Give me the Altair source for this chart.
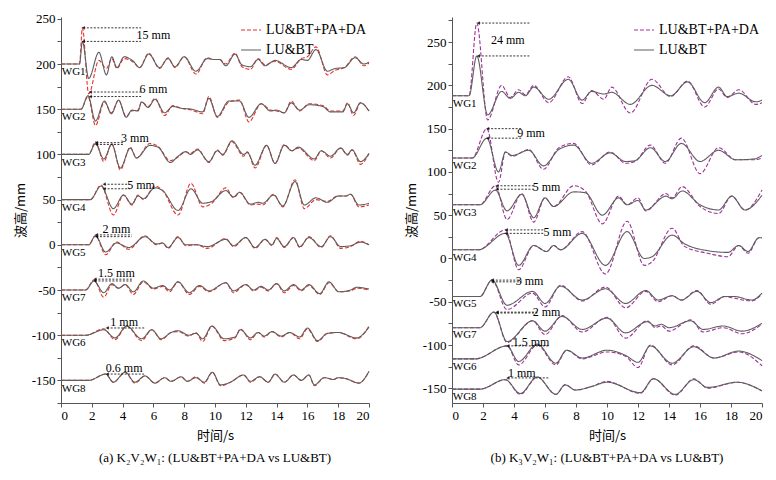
import altair as alt
import pandas as pd

# panel (a) K2V2W1 - gauge order top to bottom, baselines, key times and values
A_GAUGES = ["WG1", "WG2", "WG3", "WG4", "WG5", "WG7", "WG6", "WG8"]
A_BASE = [200, 150, 100, 50, 0, -50, -100, -150]
A_T = {
    "WG1": [0, 1.2, 1.39, 1.8, 2.46, 2.95, 3.3, 3.63, 4.1, 4.7, 5.1, 5.7, 6.4, 6.95, 7.4, 8.0, 8.76, 9.5, 9.9, 10.3, 10.7, 11.3, 11.75, 12.3, 12.8, 13.25, 13.9, 14.95, 15.6, 16.0, 16.56, 17.3, 17.8, 18.4, 19.1, 19.66, 20],
    "WG2": [0, 1.3, 1.75, 2.24, 2.82, 3.27, 3.74, 4.23, 4.6, 5.0, 5.23, 5.66, 6.1, 6.73, 7.26, 7.8, 8.5, 9.2, 9.6, 10.15, 10.9, 11.6, 12.2, 13.0, 13.6, 14.0, 14.5, 14.95, 15.5, 16.1, 17.0, 17.5, 18.3, 18.6, 19.0, 19.44, 20],
    "WG3": [0, 1.8, 2.24, 2.78, 3.3, 3.85, 4.5, 4.9, 5.77, 6.3, 7.1, 7.6, 8.1, 8.4, 8.87, 9.6, 10.15, 10.5, 11.1, 11.86, 12.1, 12.6, 13.35, 13.9, 14.5, 15.0, 15.4, 16.45, 16.9, 17.5, 18.16, 18.6, 18.9, 19.45, 20],
    "WG4": [0, 1.9, 2.6, 3.4, 4.06, 4.6, 5.0, 5.35, 6.1, 6.6, 7.6, 8.44, 9.2, 9.8, 10.7, 11.2, 11.6, 12.3, 12.8, 13.1, 13.8, 14.4, 15.2, 15.8, 16.55, 17.3, 18.0, 18.5, 18.8, 19.34, 20],
    "WG5": [0, 1.8, 2.24, 2.9, 3.6, 4.4, 5.45, 6.2, 6.6, 6.95, 7.6, 8.1, 8.8, 9.5, 10.7, 11.2, 12.0, 12.6, 13.25, 13.7, 14.0, 14.5, 15.1, 15.5, 16.1, 16.9, 17.5, 18.16, 18.8, 19.45, 20],
    "WG7": [0, 1.6, 2.14, 2.78, 3.3, 3.74, 4.17, 4.7, 5.34, 6.0, 6.6, 7.05, 7.6, 8.33, 9.0, 9.6, 10.7, 11.2, 12.0, 12.5, 13.0, 13.46, 14.0, 14.5, 15.1, 15.6, 16.1, 16.8, 17.4, 18.05, 18.8, 19.2, 20],
    "WG6": [0, 1.6, 2.78, 3.5, 4.27, 5.23, 5.9, 6.5, 7.15, 7.6, 8.3, 8.76, 9.2, 9.8, 10.6, 11.3, 11.65, 12.3, 12.8, 13.2, 13.7, 14.3, 14.85, 15.5, 16.0, 16.66, 17.3, 18.0, 19.2, 20],
    "WG8": [0, 1.8, 2.9, 3.4, 4.17, 4.8, 5.45, 6.1, 6.73, 7.15, 7.8, 8.2, 8.76, 9.3, 9.83, 10.36, 11.0, 11.86, 12.3, 12.9, 13.46, 13.9, 14.5, 15.1, 15.6, 16.1, 16.45, 17.1, 17.7, 18.0, 18.5, 19.34, 20],
}
A_GRAY = {
    "WG1": [200, 200, 225, 184, 213, 188, 208, 196, 208, 203, 196, 211, 196, 206, 197, 208, 192, 206, 205, 205, 198, 211, 199, 197, 205, 198, 204, 196, 205, 204, 216, 192, 195, 196, 207, 200, 202],
    "WG2": [150, 150, 165, 137, 159, 145, 160, 141, 149, 148, 158, 152, 161, 146, 153, 151, 150, 147, 162, 142, 159, 159, 141, 156, 148, 149, 146, 157, 149, 155, 153, 147, 147, 156, 146, 157, 148],
    "WG3": [100, 100, 112, 95, 111, 85, 107, 96, 110, 108, 91, 98, 103, 100, 105, 92, 104, 100, 115, 100, 102, 88, 110, 90, 110, 104, 108, 95, 104, 98, 107, 100, 105, 92, 101],
    "WG4": [50, 50, 65, 40, 55, 45, 54, 51, 63, 60, 38, 62, 46, 48, 60, 53, 58, 45, 47, 46, 55, 43, 70, 44, 52, 47, 54, 54, 56, 44, 46],
    "WG5": [0, 0, 10, -8, 2, -3, 9, 1, 2, -3, 8, 0, 0, -2, 6, -1, 8, -3, 6, 0, 7, -2, 8, -2, 8, -2, 9, -2, -1, 3, 0],
    "WG7": [-50, -50, -40, -53, -43, -48, -44, -52, -40, -48, -45, -50, -41, -53, -45, -51, -42, -51, -44, -50, -46, -50, -43, -51, -44, -50, -44, -54, -41, -52, -50, -47, -49],
    "WG6": [-100, -100, -94, -103, -90, -104, -94, -104, -97, -95, -100, -98, -104, -90, -104, -102, -94, -103, -97, -101, -96, -101, -97, -102, -92, -106, -98, -97, -103, -91],
    "WG8": [-150, -150, -143, -152, -141, -152, -145, -153, -147, -151, -146, -151, -147, -152, -141, -155, -152, -144, -151, -146, -152, -143, -152, -144, -150, -144, -155, -147, -149, -147, -148, -153, -140],
}
A_RED = {
    "WG1": [200, 200, 240, 167, 204, 195, 206, 195, 206, 202, 196, 212, 195, 207, 196, 208, 189, 207, 205, 205, 200, 212, 197, 194, 206, 199, 203, 194, 206, 208, 219, 188, 193, 196, 208, 198, 201],
    "WG2": [150, 150, 164, 132, 158, 146, 160, 142, 148, 149, 158, 153, 162, 143, 154, 151, 149, 145, 164, 141, 158, 160, 136, 156, 149, 148, 146, 159, 148, 156, 154, 148, 148, 157, 143, 157, 148],
    "WG3": [100, 100, 114, 92, 112, 83, 108, 96, 112, 109, 93, 97, 103, 101, 106, 91, 105, 99, 114, 98, 103, 85, 110, 90, 111, 104, 107, 93, 104, 96, 107, 99, 105, 89, 101],
    "WG4": [50, 50, 66, 33, 55, 44, 55, 50, 65, 60, 33, 68, 42, 46, 63, 52, 58, 44, 45, 44, 56, 42, 72, 40, 50, 48, 54, 54, 56, 42, 44],
    "WG5": [0, 0, 10, -11, 3, -5, 10, 0, 2, -4, 9, -1, 0, -4, 7, -2, 8, -4, 6, -1, 8, -3, 8, -3, 9, -3, 10, -4, -2, 4, 0],
    "WG7": [-50, -50, -39, -58, -44, -48, -44, -55, -41, -49, -46, -52, -41, -55, -46, -52, -42, -53, -44, -51, -47, -51, -43, -53, -45, -51, -45, -55, -42, -52, -51, -48, -50],
    "WG6": [-100, -100, -93, -105, -90, -106, -94, -105, -97, -96, -101, -97, -107, -90, -106, -103, -93, -105, -97, -102, -96, -102, -97, -104, -93, -107, -98, -97, -104, -90],
    "WG8": [-150, -150, -143, -152, -141, -153, -145, -153, -147, -151, -146, -151, -146, -153, -141, -156, -152, -144, -152, -146, -152, -143, -152, -144, -150, -144, -156, -147, -149, -147, -148, -153, -140],
}

# panel (b) K3V2W1
B_GAUGES = ["WG1", "WG2", "WG3", "WG4", "WG5", "WG7", "WG6", "WG8"]
B_BASE = [188, 116, 62, 10, -44, -80, -116, -151]
B_T = {
    "WG1": [0, 1.1, 1.6, 2.3, 3.2, 3.76, 4.3, 4.73, 5.27, 6.24, 7.5, 8.4, 9.0, 9.8, 10.3, 11.5, 12.9, 14.1, 15.2, 16.3, 17.2, 17.75, 18.5, 19.6, 20],
    "WG2": [0, 1.3, 2.25, 3.0, 3.45, 3.87, 4.95, 5.9, 6.9, 7.85, 9.0, 10.2, 11.2, 11.8, 12.8, 13.76, 14.8, 16.0, 17.2, 18.3, 19.5, 20],
    "WG3": [0, 1.8, 2.8, 3.55, 4.5, 5.27, 6.0, 6.55, 7.85, 8.6, 9.7, 10.75, 11.3, 12.0, 12.5, 13.8, 14.2, 14.85, 16.0, 17.2, 18.05, 18.9, 20],
    "WG4": [0, 1.7, 3.44, 4.3, 5.27, 6.1, 6.56, 7.0, 8.4, 9.9, 11.3, 12.4, 12.9, 14.2, 15.0, 16.5, 17.8, 18.5, 19.1, 19.8, 20],
    "WG5": [0, 1.8, 2.58, 3.55, 5.2, 6.0, 7.0, 8.4, 9.9, 11.2, 12.5, 13.3, 14.2, 14.8, 15.8, 16.7, 17.6, 18.2, 19.35, 20],
    "WG7": [0, 1.8, 2.7, 3.55, 5.2, 6.0, 7.1, 8.4, 10.0, 11.2, 12.6, 13.1, 13.5, 14.0, 15.4, 16.2, 17.5, 18.7, 20],
    "WG6": [0, 1.5, 3.55, 4.3, 5.5, 6.7, 7.4, 8.4, 10.0, 11.2, 12.0, 12.8, 14.2, 15.6, 16.9, 18.5, 20],
    "WG8": [0, 1.8, 3.44, 4.4, 5.5, 6.7, 7.3, 7.96, 9.0, 10.0, 12.15, 13.0, 14.4, 15.6, 16.5, 18.4, 20],
}
B_GRAY = {
    "WG1": [188, 188, 234, 166, 193, 185, 192, 188, 198, 184, 207, 183, 193, 190, 192, 178, 200, 188, 204, 180, 198, 187, 191, 181, 183],
    "WG2": [116, 116, 139, 100, 123, 119, 125, 107, 126, 131, 110, 122, 112, 113, 128, 112, 133, 112, 125, 114, 115, 119],
    "WG3": [62, 62, 79, 55, 74, 47, 70, 60, 77, 76, 50, 70, 62, 67, 56, 72, 69, 78, 62, 56, 72, 56, 73],
    "WG4": [10, 10, 29, -8, 15, 8, 15, 10, 29, -8, 31, 0, 2, 27, 17, 9, 7, 15, 8, 24, 24],
    "WG5": [-44, -44, -25, -54, -38, -52, -32, -48, -35, -52, -37, -48, -43, -48, -38, -51, -44, -44, -48, -40],
    "WG7": [-80, -80, -62, -96, -72, -84, -67, -82, -69, -86, -73, -78, -76, -80, -72, -82, -78, -84, -75],
    "WG6": [-116, -116, -101, -119, -99, -121, -106, -115, -106, -112, -120, -101, -121, -102, -115, -107, -118],
    "WG8": [-151, -151, -140, -156, -137, -157, -146, -152, -148, -143, -155, -139, -157, -140, -149, -143, -153],
}
B_PURPLE = {
    "WG1": [188, 188, 272, 160, 200, 186, 195, 189, 200, 180, 210, 179, 194, 184, 198, 168, 207, 187, 205, 175, 196, 186, 195, 178, 180],
    "WG2": [116, 116, 150, 88, 123, 118, 126, 103, 128, 133, 108, 123, 110, 112, 131, 110, 139, 98, 128, 114, 114, 116],
    "WG3": [62, 62, 84, 45, 75, 42, 70, 60, 84, 78, 40, 72, 62, 70, 55, 75, 70, 83, 60, 52, 72, 56, 79],
    "WG4": [10, 10, 33, -13, 15, 8, 15, 10, 31, -18, 43, -8, -4, 35, 14, 6, 2, 15, 6, 24, 24],
    "WG5": [-44, -44, -25, -59, -40, -56, -31, -49, -33, -57, -38, -50, -43, -48, -37, -53, -44, -46, -49, -41],
    "WG7": [-80, -80, -62, -97, -72, -88, -66, -85, -68, -92, -72, -80, -78, -84, -71, -85, -80, -87, -76],
    "WG6": [-116, -116, -101, -123, -100, -123, -106, -116, -108, -113, -126, -100, -123, -101, -115, -108, -124],
    "WG8": [-151, -151, -140, -157, -137, -157, -146, -152, -148, -142, -156, -139, -158, -139, -150, -143, -153],
}

# difference annotations: label, y levels, t start, t end, label position
A_NOTES = [("15 mm", [240, 225], 1.45, 5.2, 6.0, 232), ("6 mm", [169, 164], 1.9, 5.2, 6.0, 172),
           ("3 mm", [113, 111], 2.3, 4.1, 4.8, 118), ("5 mm", [67, 62], 2.8, 4.5, 5.2, 66),
           ("2 mm", [11, 9], 2.3, 4.6, 3.6, 18), ("1.5 mm", [-38, -40], 2.2, 4.6, 3.6, -31),
           ("1 mm", [-92], 3.0, 5.4, 4.1, -85), ("0.6 mm", [-143], 3.0, 5.4, 4.1, -136)]
B_NOTES = [("24 mm", [272, 234], 1.7, 5.0, 3.6, 253), ("9 mm", [150, 139], 2.3, 4.5, 5.1, 145),
           ("5 mm", [84, 80], 2.9, 5.3, 6.1, 83), ("5 mm", [33, 29], 3.5, 6.0, 6.8, 31),
           ("3 mm", [-25, -27], 2.6, 4.5, 5.0, -26), ("2 mm", [-62, -63], 2.9, 5.5, 6.1, -62),
           ("1.5 mm", [-101], 3.6, 6.3, 5.1, -96), ("1 mm", [-138], 3.6, 6.3, 4.5, -132)]

SERIF = "Liberation Serif"
CJK = "Noto Sans CJK SC"


def panel(gauges, base, times, gray, other, other_color, notes, ydom, caption, w):
    rows = []
    for g in gauges:
        for t, v in zip(times[g], other[g]):
            rows.append({"g": g, "s": "LU&BT+PA+DA", "t": t, "v": v})
        for t, v in zip(times[g], gray[g]):
            rows.append({"g": g, "s": "LU&BT", "t": t, "v": v})
    df = pd.DataFrame(rows)
    labels = pd.DataFrame({"g": gauges, "t": 0.05, "v": [b - 9 for b in base]})
    segs = pd.DataFrame([{"t": n[2], "t2": n[3], "v": y} for n in notes for y in n[1]])
    texts = pd.DataFrame([{"txt": n[0], "t": n[4], "v": n[5]} for n in notes])

    yticks = [v for v in range(-175, 276, 25) if ydom[0] <= v <= ydom[1]]
    x = alt.X("t:Q", scale=alt.Scale(domain=[0, 20], nice=False),
              axis=alt.Axis(values=list(range(0, 21, 2)), title="时间/s", grid=False, labelOverlap=False,
                            titleFont=CJK, titleFontWeight="normal", titleFontSize=13, titlePadding=7,
                            labelFont=SERIF, labelFontSize=13, tickSize=4, labelColor="black",
                            domainColor="#555", tickColor="#555", titleColor="black"))
    y = alt.Y("v:Q", scale=alt.Scale(domain=ydom, nice=False),
              axis=alt.Axis(values=yticks, title="波高/mm", grid=False,
                            labelOverlap=False, labelBound=False, labelFlush=False,
                            labelExpr="abs(datum.value) % 50 == 0 ? toString(datum.value) : ''",
                            titleFont=CJK, titleFontWeight="normal", titleFontSize=13,
                            labelFont=SERIF, labelFontSize=13, tickSize=4, labelColor="black",
                            domainColor="#555", tickColor="#555", titleColor="black", titlePadding=4))
    lines = alt.Chart(df).mark_line(interpolate="monotone", strokeWidth=1.1).encode(
        x=x, y=y, detail="g:N",
        color=alt.Color("s:N", scale=alt.Scale(domain=["LU&BT+PA+DA", "LU&BT"], range=[other_color, "#5e5e5e"]),
                        legend=alt.Legend(title=None, orient="top-right", labelFont=SERIF, labelFontSize=14,
                                          symbolType="stroke", symbolSize=400, symbolStrokeWidth=1.2,
                                          labelColor="black", offset=2, padding=0, rowPadding=2)),
        strokeDash=alt.StrokeDash("s:N", scale=alt.Scale(domain=["LU&BT+PA+DA", "LU&BT"], range=[[4, 2], [1, 0]]),
                                  legend=alt.Legend(title=None, orient="top-right")),
    )
    wg = alt.Chart(labels).mark_text(align="left", font=SERIF, fontSize=11, color="black").encode(
        x=x, y=y, text="g:N")
    rules = alt.Chart(segs).mark_rule(strokeDash=[2, 1.5], color="black", strokeWidth=0.8).encode(
        x=x, x2="t2:Q", y=y)
    heads = alt.Chart(segs).mark_point(shape="triangle-left", filled=True, size=14, color="black").encode(
        x=x, y=y)
    tx = alt.Chart(texts).mark_text(align="center", font=SERIF, fontSize=12, color="black").encode(
        x=x, y=y, text="txt:N")
    return alt.layer(lines, rules, heads, tx, wg).properties(
        width=w, height=386,
        title=alt.TitleParams(caption, orient="bottom", font=SERIF, fontSize=13, fontWeight="normal",
                              color="black", offset=10))


pa = panel(A_GAUGES, A_BASE, A_T, A_GRAY, A_RED, "#e8302a", A_NOTES, [-175, 252],
           "(a) K₂V₂W₁: (LU&BT+PA+DA vs LU&BT)", 308)
pb = panel(B_GAUGES, B_BASE, B_T, B_GRAY, B_PURPLE, "#a0309a", B_NOTES, [-167, 279],
           "(b) K₃V₂W₁: (LU&BT+PA+DA vs LU&BT)", 310)

chart = alt.hconcat(pa, pb, spacing=33).resolve_scale(
    color="independent", strokeDash="independent").configure_view(stroke=None).properties(
    padding={"left": 6, "top": 4, "right": 0, "bottom": 0})
chart.save("out.html", embed_options={"renderer": "svg", "actions": False})
